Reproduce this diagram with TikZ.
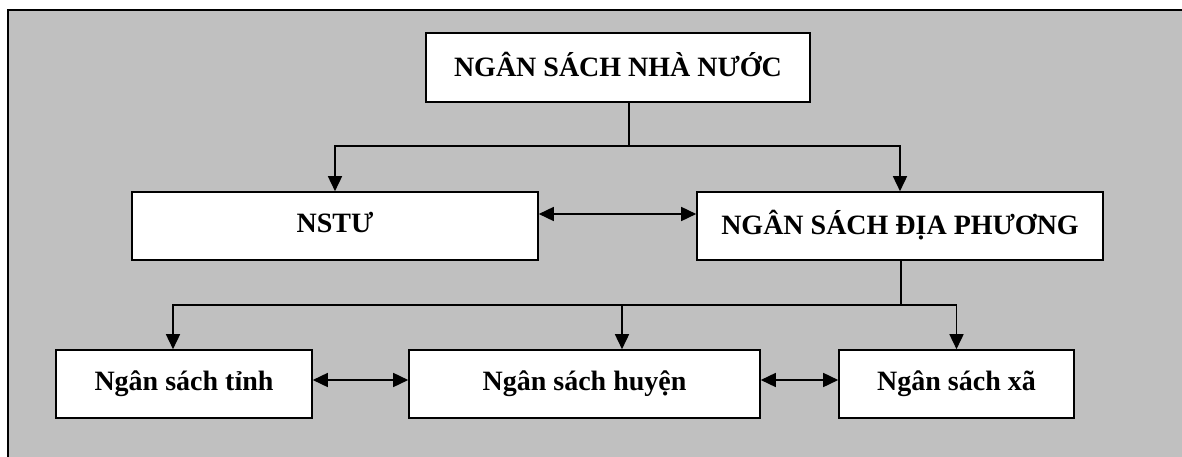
\documentclass[tikz,border=0pt]{standalone}
\usepackage{fontspec}
\setmainfont{Liberation Serif}
\usetikzlibrary{arrows.meta}
\definecolor{bggray}{HTML}{C0C0C0}
\begin{document}
\begin{tikzpicture}[x=1pt,y=-1pt,
  box/.style={draw=black,line width=1.6pt,fill=white,inner sep=0pt,
    font=\fontsize{28}{30}\selectfont\bfseries},
  conn/.style={line width=1.6pt,draw=black},
  arr/.style={conn,-{Triangle[length=15pt,width=14pt]}},
  darr/.style={conn,{Triangle[length=15pt,width=14pt]}-{Triangle[length=15pt,width=14pt]}}]
\useasboundingbox (0,0) rectangle (1182,457);
\fill[bggray] (8,10) rectangle (1190,465);
\draw[line width=2pt] (8,465) -- (8,10) -- (1190,10);

\node[box,minimum width=384pt,minimum height=69pt] (nsnn) at (618,67.5) {\raisebox{7pt}{NGÂN SÁCH NHÀ NƯỚC}};
\node[box,minimum width=406pt,minimum height=68pt] (nstu) at (335,226) {\raisebox{8pt}{NSTƯ}};
\node[box,minimum width=406pt,minimum height=68pt] (nsdp) at (900,226) {\raisebox{8pt}{NGÂN SÁCH ĐỊA PHƯƠNG}};
\node[box,minimum width=256pt,minimum height=68pt] (tinh) at (184,384) {\raisebox{5pt}{Ngân sách tỉnh}};
\node[box,minimum width=351pt,minimum height=68pt] (huyen) at (584.5,384) {\raisebox{5pt}{Ngân sách huyện}};
\node[box,minimum width=235pt,minimum height=68pt] (xa) at (956.5,384) {\raisebox{5pt}{Ngân sách xã}};

\coordinate (j1) at (629,146);
\coordinate (j2) at (901,305);
\draw[conn] (nsnn.south -| j1) -- (j1);
\draw[arr] (j1) -| (nstu.north);
\draw[arr] (j1) -| (nsdp.north);
\draw[darr] ([yshift=12pt]nstu.east) -- ([yshift=12pt]nsdp.west);

\draw[conn] (nsdp.south -| j2) -- (j2);
\draw[arr] (j2) -| ([xshift=-11pt]tinh.north);
\draw[arr] (j2) -| ([xshift=37.5pt]huyen.north);
\draw[arr] (j2) -| (xa.north);
\draw[darr] ([yshift=4pt]tinh.east) -- ([yshift=4pt]huyen.west);
\draw[darr] ([yshift=4pt]huyen.east) -- ([yshift=4pt]xa.west);
\end{tikzpicture}
\end{document}
